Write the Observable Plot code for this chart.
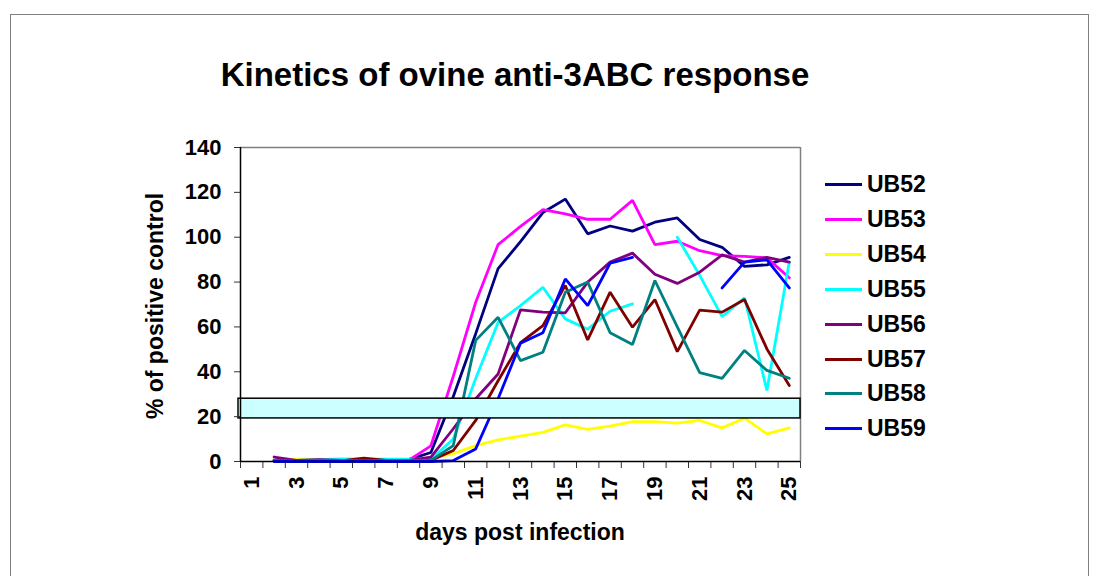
<!DOCTYPE html>
<html>
<head>
<meta charset="utf-8">
<script src="https://cdn.jsdelivr.net/npm/d3@7"></script>
<script src="https://cdn.jsdelivr.net/npm/@observablehq/plot@0.6"></script>
<style>
  html, body { margin: 0; padding: 0; background: #fff; }
  #wrap { position: relative; width: 1101px; height: 576px; overflow: hidden; font-family: "Liberation Sans", Arial, sans-serif; font-weight: bold; color: #000; }
  #frame { position: absolute; left: 10px; top: 14px; width: 1079px; height: 570px; border: 1px solid #808080; box-sizing: border-box; }
  #chart { position: absolute; left: 0; top: 0; }
  .lbl { position: absolute; white-space: nowrap; line-height: 1; }
  #title { left: 0; width: 1030px; text-align: center; top: 58px; font-size: 33px; }
  #ylab { left: 155px; top: 306px; font-size: 23px; transform: translate(-50%, -50%) rotate(-90deg); }
  #xlab { left: 520px; top: 532px; font-size: 23px; transform: translate(-50%, -50%); }
  .leg { position: absolute; left: 825px; height: 24px; font-size: 23px; }
  .leg .sw { position: absolute; left: 0; top: 11px; width: 37px; height: 3px; }
  .leg .tx { position: absolute; left: 42px; top: 0; line-height: 24px; }
</style>
</head>
<body>
<div id="wrap">
  <div id="frame"></div>
  <div id="chart"></div>
  <div class="lbl" id="title">Kinetics of ovine anti-3ABC response</div>
  <div class="lbl" id="ylab">% of positive control</div>
  <div class="lbl" id="xlab">days post infection</div>
  <div id="legend"></div>
</div>
<script>
const days = d3.range(1, 26);
const seriesNames = ["UB52", "UB53", "UB54", "UB55", "UB56", "UB57", "UB58", "UB59"];
const seriesColors = ["#000080", "#FF00FF", "#FFFF00", "#00FFFF", "#800080", "#800000", "#008080", "#0000FF"];

const UB52 = [null, 0.5, 0.3, 0.5, 0.3, 0.3, 0.5, 0.8, 4, 29, 57, 86, 98, 111, 117, 101.5, 105, 102.7, 106.7, 108.6, 99, 95.5, 87, 87.7, 91];
const UB53 = [null, 0.5, 0.5, 0.3, 0.5, 0.5, 0.3, 0.5, 7, 38, 71, 96.7, 104.8, 112.3, 110.4, 108, 108, 116.4, 96.7, 98.2, 94, 91.8, 91.5, 90.8, 81.9];
const UB54 = [null, 0.5, 1, 1, 0.8, 0.5, 0.5, 0.5, 1.5, 3.5, 7.1, 9.6, 11.3, 13, 16.3, 14.3, 15.8, 17.8, 17.8, 17.1, 18.3, 15, 19.3, 12.3, 15];
const UB55 = [null, 0.5, 0.5, 0.8, 1.2, 1, 1, 1, 1, 10, 37, 62, 69.5, 77.7, 63.6, 59, 67, 70.3, null, 100, 83, 64.6, 73, 31.7, 88.9];
const UB56 = [null, 2, 0.5, 0.8, 0.5, 0.5, 0.5, 0.5, 2, 14.6, 28, 39, 67.6, 66.6, 66.3, 80, 88.9, 92.9, 83.5, 79.4, 84.4, 92.1, 88.9, 91, 88.9];
const UB57 = [null, 0.5, 0.5, 0.5, 0.3, 1.5, 0.5, 0.3, 0.5, 4.9, 18.3, 36, 53, 60.6, 78.5, 54.2, 75.5, 59.9, 72.2, 49, 67.5, 66.6, 72.2, 50.2, 33.9];
const UB58 = [null, 0.5, 0.3, 0.5, 0.5, 0.3, 0.5, 0.5, 0.5, 7.1, 54, 64.3, 45, 48.7, 75.5, 80, 57.4, 52.2, 80.7, 60, 39.6, 37.1, 49.5, 40.6, 37.1];
const UB59 = [null, 0, 0, 0, 0, 0, 0, 0, 0, 0.4, 5.6, 28, 52.7, 57.4, 81.4, 69.5, 88.4, 91, null, null, null, 77.4, 88.9, 89.9, 77.4];

const yTicks = [0, 20, 40, 60, 80, 100, 120, 140];
const xTickLabels = [1, 3, 5, 7, 9, 11, 13, 15, 17, 19, 21, 23, 25];
const bandLow = 19.2;
const bandHigh = 28;

const seriesValues = [UB52, UB53, UB54, UB55, UB56, UB57, UB58, UB59];
const data = [];
seriesNames.forEach((name, i) => {
  days.forEach((d, j) => {
    const v = seriesValues[i][j];
    data.push({day: d, name, value: v == null ? NaN : v});
  });
});
const boundaries = d3.range(0, 26).map(i => i + 0.5);

const plot = Plot.plot({
  width: 1101,
  height: 576,
  marginLeft: 240,
  marginRight: 301,
  marginTop: 147,
  marginBottom: 115,
  style: {fontFamily: "'Liberation Sans', Arial, sans-serif", fontSize: "22px", fontWeight: "bold", background: "transparent", color: "#000"},
  x: {type: "linear", domain: [0.5, 25.5]},
  y: {domain: [0, 140]},
  color: {domain: seriesNames, range: seriesColors},
  marks: [
    Plot.ruleY([140], {stroke: "#808080", strokeWidth: 1.5}),
    Plot.ruleX([25.5], {stroke: "#808080", strokeWidth: 1.5}),
    Plot.line(data, {x: "day", y: "value", z: "name", stroke: "name", strokeWidth: 2.8, curve: "linear", strokeLinejoin: "miter"}),
    Plot.rect([{lo: bandLow, hi: bandHigh}], {x1: 0.5, x2: 25.5, y1: "lo", y2: "hi", fill: "#CCFFFF", stroke: "#000", strokeWidth: 1.5, insetLeft: -2}),
    Plot.axisY({ticks: yTicks, tickSize: 6, tickPadding: 13, stroke: "#333", fill: "#000", label: null, fontSize: 22}),
    Plot.axisX({ticks: boundaries, tickSize: 7, tickFormat: () => "", stroke: "#333", label: null}),
    Plot.axisX({ticks: xTickLabels, tickSize: 0, tickPadding: 15, tickRotate: -90, label: null, fill: "#000", fontSize: 22}),
    Plot.ruleX([0.5], {stroke: "#000", strokeWidth: 1.5}),
    Plot.ruleY([0], {stroke: "#000", strokeWidth: 1.5})
  ]
});
document.getElementById("chart").appendChild(plot);

const legend = document.getElementById("legend");
seriesNames.forEach((name, i) => {
  const row = document.createElement("div");
  row.className = "leg";
  row.style.top = (172 + i * 34.9) + "px";
  row.innerHTML = `<div class="sw" style="background:${seriesColors[i]}"></div><div class="tx">${name}</div>`;
  legend.appendChild(row);
});
</script>
</body>
</html>
